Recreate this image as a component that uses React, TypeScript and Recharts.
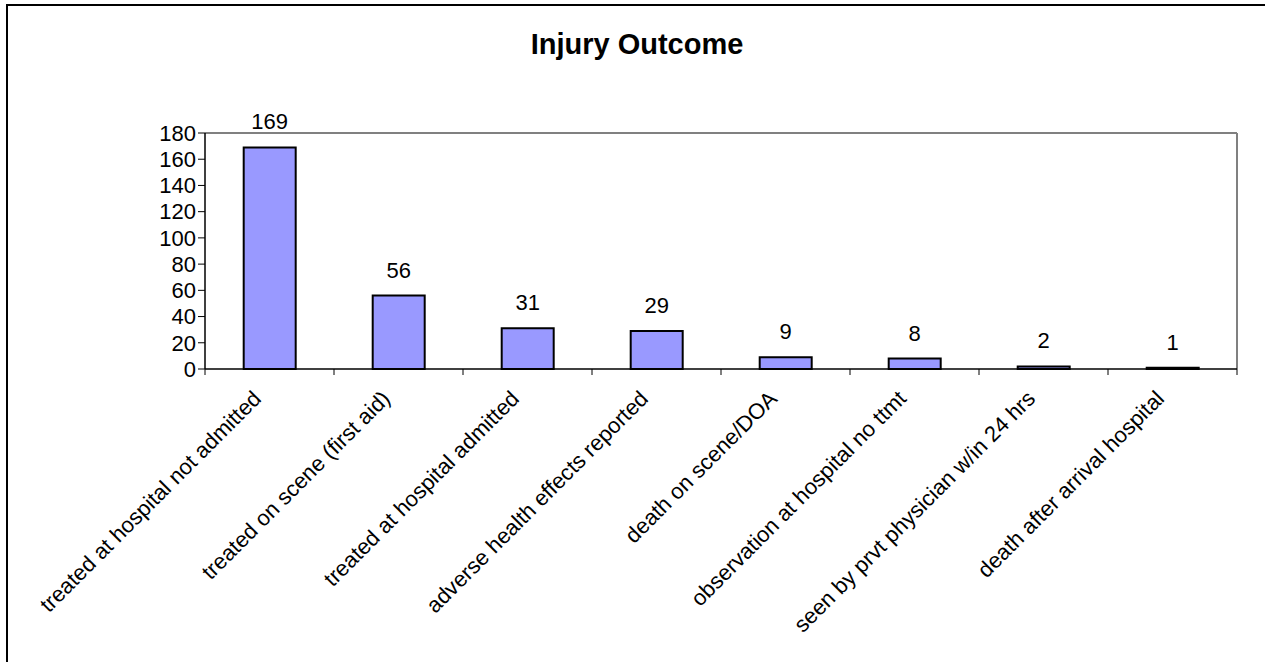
import React from "react";
import {
  Bar,
  BarChart,
  LabelList,
  XAxis,
  YAxis,
  ReferenceLine,
} from "recharts";

const outcomes = [
  "treated at hospital not admitted",
  "treated on scene (first aid)",
  "treated at hospital admitted",
  "adverse health effects reported",
  "death on scene/DOA",
  "observation at hospital no ttmt",
  "seen by prvt physician w/in 24 hrs",
  "death after arrival hospital",
];

const counts = [169, 56, 31, 29, 9, 8, 2, 1];

const yTicks = [0, 20, 40, 60, 80, 100, 120, 140, 160, 180];

const font = "Arial, 'Liberation Sans', sans-serif";

const data = outcomes.map((name, i) => ({ name, count: counts[i] }));

// category label rotated 45deg, plus a tick mark on the left edge of each band
function CategoryTick(props: any) {
  const { x, y, payload, width, visibleTicksCount, index } = props;
  const band = width && visibleTicksCount ? width / visibleTicksCount : 129;
  const axisY = y - 6;
  const left = x - band / 2;
  const ax = x - 7;
  const ay = axisY + 31;
  return (
    <g>
      <line x1={left} y1={axisY} x2={left} y2={axisY + 6} stroke="#000" />
      {index === visibleTicksCount - 1 && (
        <line
          x1={left + band}
          y1={axisY}
          x2={left + band}
          y2={axisY + 6}
          stroke="#000"
        />
      )}
      <text
        x={ax}
        y={ay}
        textAnchor="end"
        transform={`rotate(-45, ${ax}, ${ay})`}
        fontFamily={font}
        fontSize={22}
        fill="#000"
      >
        {payload.value}
      </text>
    </g>
  );
}

export default function App() {
  return (
    <div
      style={{
        position: "absolute",
        left: 0,
        top: 0,
        width: 1265,
        height: 662,
        overflow: "hidden",
        background: "#fff",
      }}
    >
      <div
        style={{
          position: "absolute",
          left: 6,
          top: 4,
          right: 0,
          bottom: 0,
          borderLeft: "2px solid #000",
          borderTop: "2px solid #000",
        }}
      />
      <div
        style={{
          position: "absolute",
          left: 6,
          top: 30,
          width: 1262,
          textAlign: "center",
          fontFamily: font,
          fontWeight: "bold",
          fontSize: 29,
          lineHeight: "29px",
          color: "#000",
        }}
      >
        Injury Outcome
      </div>
      <div style={{ position: "absolute", left: 0, top: 0 }}>
        <BarChart
          width={1265}
          height={662}
          data={data}
          margin={{ top: 133, right: 28, bottom: 93, left: 145 }}
          barCategoryGap="30%"
        >
          <XAxis
            dataKey="name"
            height={200}
            interval={0}
            tickLine={false}
            tickSize={6}
            tickMargin={0}
            axisLine={{ stroke: "#000", strokeWidth: 1.5 }}
            tick={<CategoryTick />}
          />
          <YAxis
            width={60}
            domain={[0, 180]}
            ticks={yTicks}
            interval={0}
            tickSize={7}
            tickLine={{ stroke: "#000" }}
            axisLine={{ stroke: "#000", strokeWidth: 1.5 }}
            tick={{ fill: "#000", fontFamily: font, fontSize: 22 }}
          />
          {/* grey plot-area frame on the top and right */}
          <ReferenceLine y={180} stroke="#808080" strokeWidth={2} />
          <ReferenceLine
            x={outcomes[outcomes.length - 1]}
            position="end"
            stroke="#808080"
            strokeWidth={2}
          />
          <Bar
            dataKey="count"
            fill="#9999FF"
            stroke="#000"
            strokeWidth={2}
            isAnimationActive={false}
          >
            <LabelList
              dataKey="count"
              position="top"
              offset={18}
              fill="#000"
              fontFamily={font}
              fontSize={22}
            />
          </Bar>
        </BarChart>
      </div>
    </div>
  );
}
